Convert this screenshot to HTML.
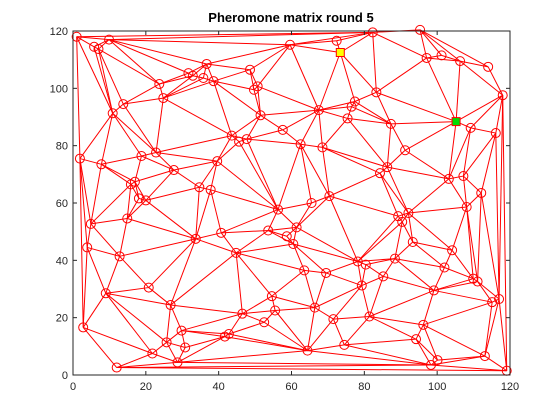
<!DOCTYPE html>
<html><head><meta charset="utf-8"><style>
html,body{margin:0;padding:0;background:#fff;}
svg{display:block;font-family:"Liberation Sans",sans-serif;}
</style></head><body>
<svg id="chart" width="560" height="420" viewBox="0 0 560 420">
<rect x="0" y="0" width="560" height="420" fill="#fff"/>
<text x="291" y="22" text-anchor="middle" font-size="13" font-weight="bold" fill="#000">Pheromone matrix round 5</text>
<g id="edges"></g>
<g id="nodes"></g>
<g id="axes"></g>
</svg>
<script>
const xs=[1,9.9,5.8,7,36.7,31.7,32.9,35.8,38.6,48.6,23.7,24.8,49.7,50.7,13.8,10.9,51.5,57.6,43.6,45.6,47.7,1.9,7.8,18.8,22.8,27.7,39.6,15.9,17,34.7,37.8,18.1,20,56.3,
4.9,14.9,33.7,40.7,53.6,58.7,3.9,12.8,44.8,20.8,9,26.8,54.6,46.5,55.5,52.5,2.8,29.8,25.7,30.8,41.7,42.8,21.8,28.7,12,
95.3,82.3,72.4,59.6,97.1,101.2,106.3,114,118,83.3,77.4,76.5,67.5,75.4,87.3,109.2,116.1,62.5,68.5,91.2,86.3,84.3,103.2,107.2,112.1,70.4,65.5,
89.3,92.1,90.4,108.1,61.4,60.5,93.3,104.1,78.2,80.4,88.4,63.5,69.5,102,85.2,79.3,109.9,111.1,99.1,115.1,117,66.4,81.4,71.5,96.2,94.2,74.5,64.4,113.1,100.1,98.3,119.1,73.4,105.2];
const ys=[118,117,114.5,113.7,108.5,105.3,104.4,103.6,102.5,106.5,101.5,96.6,99.5,100.7,94.5,91.3,90.6,85.5,83.5,81.4,82.3,75.5,73.5,76.4,77.6,71.5,74.6,66.5,67.4,65.5,64.6,61.6,60.9,57.7,
52.7,54.6,47.5,49.6,50.4,48.4,44.5,41.4,42.6,30.5,28.5,24.4,27.5,21.4,22.5,18.4,16.6,15.5,11.4,9.6,13.4,14.3,7.5,4.4,2.6,
120.4,119.5,116.6,115.2,110.6,111.5,109.5,107.5,97.6,98.6,95.4,93.6,92.4,89.5,87.6,86.2,84.4,80.5,79.4,78.4,72.5,70.4,68.4,69.4,63.5,62.4,60,
55.4,56.5,53.4,58.6,51.5,45.7,46.4,43.5,39.6,38.5,40.6,36.5,35.6,37.5,34.4,31.2,33.6,32.6,29.5,25.4,26.5,23.5,20.4,19.5,17.5,12.5,10.5,8.5,6.6,5.2,3.5,1.5,112.5,88.4];
const xTicks=[0,20,40,60,80,100,120];
const yTicks=[0,20,40,60,80,100,120];
const startNode=118; // yellow
const currentNode=119; // green

const X0=73,X1=510,Y0=375,Y1=31;
function sx(v){return X0+v*(X1-X0)/120;}
function sy(v){return Y0-v*(Y0-Y1)/120;}
const NS="http://www.w3.org/2000/svg";
function mk(tag,attrs,parent){const e=document.createElementNS(NS,tag);for(const k in attrs)e.setAttribute(k,attrs[k]);parent.appendChild(e);return e;}

// Delaunay (Bowyer-Watson)
const n=xs.length;
const P=xs.map((x,i)=>[x,ys[i]]);
P.push([-1000,-1000],[1200,-1000],[60,1200]);
let tris=[[n,n+1,n+2]];
function circ(t){const[a,b,c]=t.map(i=>P[i]);const d=2*(a[0]*(b[1]-c[1])+b[0]*(c[1]-a[1])+c[0]*(a[1]-b[1]));
const a2=a[0]*a[0]+a[1]*a[1],b2=b[0]*b[0]+b[1]*b[1],c2=c[0]*c[0]+c[1]*c[1];
const ux=(a2*(b[1]-c[1])+b2*(c[1]-a[1])+c2*(a[1]-b[1]))/d,uy=(a2*(c[0]-b[0])+b2*(a[0]-c[0])+c2*(b[0]-a[0]))/d;
return[ux,uy,(a[0]-ux)**2+(a[1]-uy)**2];}
for(let i=0;i<n;i++){const p=P[i];const bad=[],keep=[];
for(const t of tris){const c=circ(t);((p[0]-c[0])**2+(p[1]-c[1])**2<c[2])?bad.push(t):keep.push(t);}
const cnt={};for(const t of bad)for(const[a,b]of[[t[0],t[1]],[t[1],t[2]],[t[2],t[0]]]){const k=Math.min(a,b)+'_'+Math.max(a,b);cnt[k]=(cnt[k]||0)+1;}
for(const k in cnt)if(cnt[k]===1){const[a,b]=k.split('_').map(Number);keep.push([a,b,i]);}
tris=keep;}
const edgeSet={};
for(const t of tris){if(t.some(i=>i>=n))continue;for(const[a,b]of[[t[0],t[1]],[t[1],t[2]],[t[2],t[0]]]){edgeSet[Math.min(a,b)+'_'+Math.max(a,b)]=[a,b];}}
const eg=document.getElementById('edges');
for(const k in edgeSet){const[a,b]=edgeSet[k];
const l=mk('line',{x1:sx(xs[a]),y1:sy(ys[a]),x2:sx(xs[b]),y2:sy(ys[b]),stroke:'#ff0000','stroke-width':1},eg);

}
const ng=document.getElementById('nodes');
for(let i=0;i<n;i++){
if(i===startNode||i===currentNode){
const r=mk('rect',{x:sx(xs[i])-4,y:sy(ys[i])-4,width:8,height:8,fill:i===startNode?'#ffff00':'#00dd00',stroke:'#ff0000','stroke-width':1},ng);


}else{
const c=mk('circle',{cx:sx(xs[i]),cy:sy(ys[i]),r:4.5,fill:'none',stroke:'#ff0000','stroke-width':1},ng);

}}
// axes
const ag=document.getElementById('axes');
const box=mk('rect',{x:X0,y:Y1,width:X1-X0,height:Y0-Y1,fill:'none',stroke:'#262626','stroke-width':1},ag);


for(const t of xTicks){const x=sx(t);
mk('line',{x1:x,y1:Y0,x2:x,y2:Y0-4,stroke:'#262626'},ag);mk('line',{x1:x,y1:Y1,x2:x,y2:Y1+4,stroke:'#262626'},ag);
const tx=mk('text',{x:x,y:Y0+15,'text-anchor':'middle','font-size':11,fill:'#262626'},ag);tx.textContent=t;

}
for(const t of yTicks){const y=sy(t);
mk('line',{x1:X0,y1:y,x2:X0+4,y2:y,stroke:'#262626'},ag);mk('line',{x1:X1,y1:y,x2:X1-4,y2:y,stroke:'#262626'},ag);
const ty=mk('text',{x:X0-5,y:y+4,'text-anchor':'end','font-size':11,fill:'#262626'},ag);ty.textContent=t;

}
</script>
</body></html>
